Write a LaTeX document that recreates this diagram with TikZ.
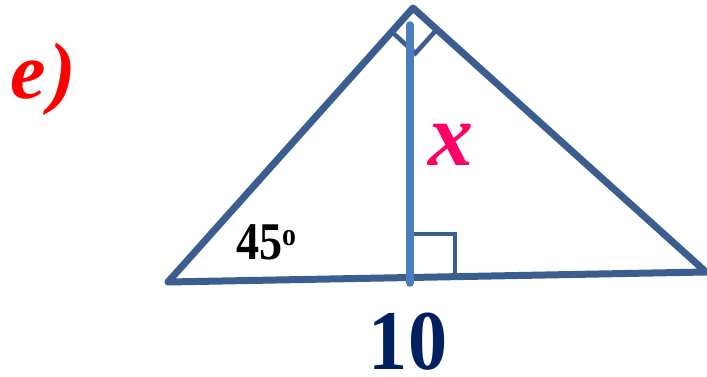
\documentclass[tikz,border=0pt]{standalone}
\usepackage{fontspec}
\usepackage{graphicx}
\setmainfont{Liberation Serif}
\definecolor{sidecol}{HTML}{3B5E8E}
\definecolor{altcol}{HTML}{4A7EBE}
\definecolor{navy}{HTML}{002060}
\definecolor{xpink}{HTML}{FF0066}
\begin{document}
\begin{tikzpicture}[x=1pt,y=-1pt,
  side/.style={draw=sidecol,line width=7pt,line join=round,line cap=round},
  rmark/.style={draw=sidecol,line width=4.5pt,line join=miter},
  alt/.style={draw=altcol,line width=7.5pt,line cap=round},
  lbl/.style={inner sep=0pt,outer sep=0pt,anchor=base west}]
\useasboundingbox (0,0) rectangle (707,376);
\coordinate (A) at (168,282);
\coordinate (B) at (413,8);
\coordinate (C) at (706,272);
\coordinate (H) at (410,277.5);
\coordinate (T) at (410,25);
\coordinate (Hb) at (410,283);
% right-angle mark at apex
\draw[rmark] (391.7,31.8) -- (415.4,53.3) -- (436.7,29.5);
% right-angle square at foot
\draw[rmark] (H) |- (455,234) -- (455,276.6);
% triangle
\draw[side] (A) -- (B) -- (C) -- cycle;
% altitude
\draw[alt] (T) -- (Hb);
% labels
\node[lbl,text=red] (e) at (10,98) {\fontsize{80}{80}\selectfont\bfseries\itshape e\kern4pt)};
\node[lbl,text=xpink] (x) at (428,165) {\fontsize{90}{90}\selectfont\bfseries\itshape x};
\node[lbl] (ang) at (236,259) {\scalebox{0.87}[1]{\fontsize{53}{53}\selectfont\bfseries 45\raisebox{14pt}{\fontsize{32}{32}\selectfont o}}};
\node[inner sep=0pt,anchor=base,text=navy] (ten) at (408,369) {\scalebox{0.92}[1]{\fontsize{85}{85}\selectfont\bfseries 10}};
\end{tikzpicture}
\end{document}
